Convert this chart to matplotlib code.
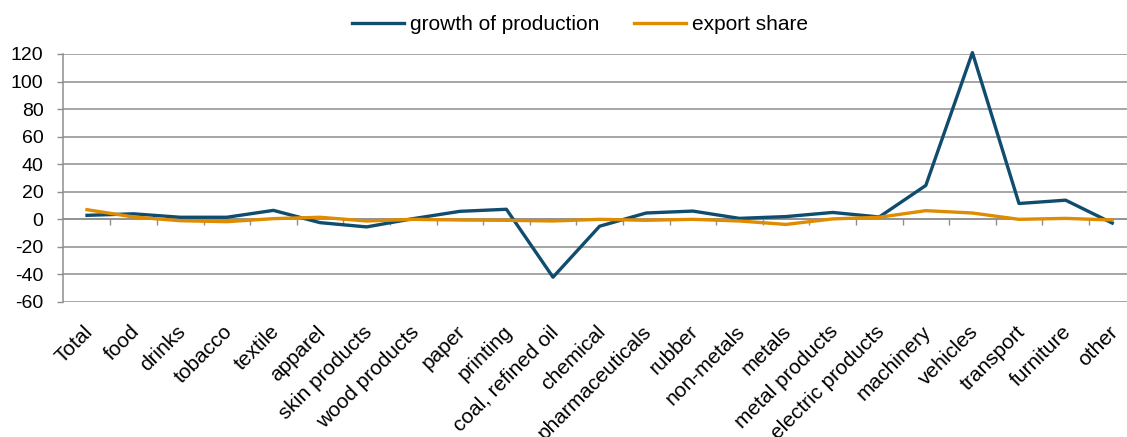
import matplotlib
matplotlib.use("Agg")
import matplotlib.pyplot as plt
import matplotlib.transforms as mtransforms
import numpy as np

categories = ["Total", "food", "drinks", "tobacco", "textile", "apparel", "skin products",
              "wood products", "paper", "printing", "coal, refined oil", "chemical",
              "pharmaceuticals", "rubber", "non-metals", "metals", "metal products",
              "electric products", "machinery", "vehicles", "transport", "furniture", "other"]
growth = [2.9, 4.0, 1.5, 1.5, 6.5, -2.4, -5.5, 0.5, 5.8, 7.3, -42.0, -5.0, 4.6, 6.0, 0.7,
          2.0, 5.0, 1.7, 24.6, 121.0, 11.5, 13.9, -2.7]
export_share = [7.0, 1.7, -1.0, -1.7, 0.5, 1.5, -1.2, 0.0, -0.5, -0.7, -1.2, 0.0, -0.7,
                0.0, -1.2, -3.7, 0.3, 1.5, 6.3, 4.6, 0.0, 0.7, -0.5]
yticks = list(range(-60, 121, 20))

plt.rcParams['font.family'] = ['Liberation Sans', 'DejaVu Sans']
W, H = 1127, 437
fig = plt.figure(figsize=(W / 100, H / 100), dpi=100)
left_px, top_px, bot_px = 63, 54, 302
ax = fig.add_axes([left_px / W, 1 - bot_px / H, 1 - left_px / W, (bot_px - top_px) / H])

x = np.arange(len(categories))
blue = "#0F4C6E"
orange = "#DF8C00"
grid_c = "#8E8E8E"

ax.plot(x, growth, color=blue, lw=2.4, label="growth of production", zorder=3, clip_on=False)
ax.plot(x, export_share, color=orange, lw=2.4, label="export share", zorder=3, clip_on=False)

spacing = 46.6
ax.set_ylim(-60, 120)
ax.set_xlim(-(87 - left_px) / spacing, (W - 87) / spacing)
ax.set_yticks(yticks)
ax.set_yticklabels([str(v) for v in yticks], fontsize=14)
ax.yaxis.grid(True, color=grid_c, lw=1.1)
ax.tick_params(axis='y', length=4, width=1.0, color=grid_c, pad=10)
for s in ["top", "right", "bottom"]:
    ax.spines[s].set_visible(False)
ax.spines["left"].set_color(grid_c)
ax.spines["left"].set_linewidth(1.1)
ax.set_axisbelow(True)

ax.set_xticks(x)
ax.set_xticklabels(categories, rotation=45, ha="right", rotation_mode="anchor", fontsize=15)
ax.tick_params(axis='x', length=0, pad=14.5)
offset = mtransforms.ScaledTranslation(-4 / 100, 0, fig.dpi_scale_trans)
for lab in ax.get_xticklabels():
    lab.set_transform(lab.get_transform() + offset)

sec = ax.secondary_xaxis((0 - (-60)) / 180)
sec.set_xticks(np.arange(len(categories)) + 0.5)
sec.set_xticklabels([])
sec.tick_params(axis='x', length=4, width=1.0, color=grid_c, direction='out')
sec.spines["bottom"].set_color(grid_c)
sec.spines["bottom"].set_linewidth(1.1)

fig.legend(loc="center", bbox_to_anchor=(580 / W, 1 - 25 / H), ncol=2, frameon=False,
           fontsize=15, handlelength=2.5, handletextpad=0.25, columnspacing=1.7)

fig.savefig("out.png", dpi=100)
